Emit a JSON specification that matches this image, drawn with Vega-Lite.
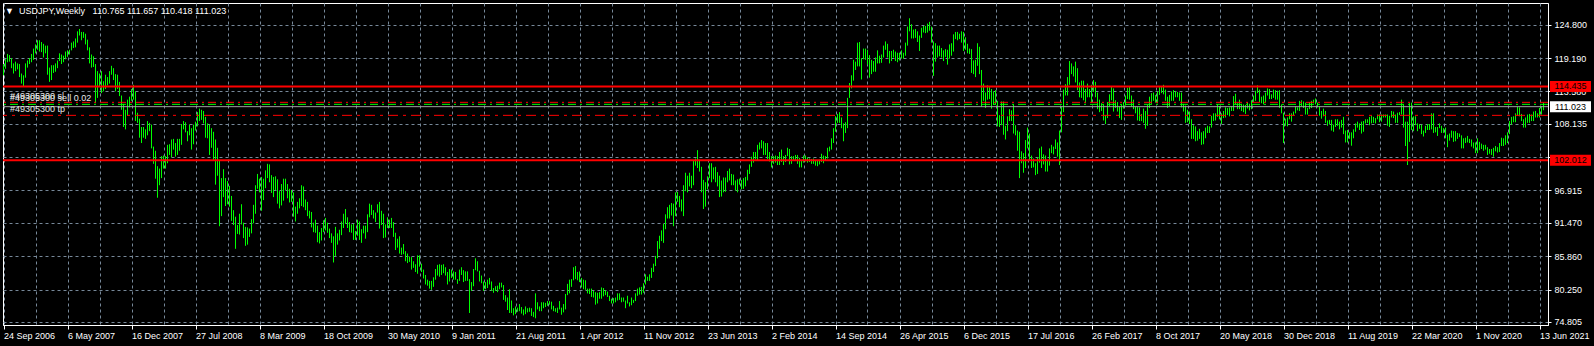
{
"$schema":"https://vega.github.io/schema/vega-lite/v6.json",
"width":1545,"height":322,
"autosize":{"type":"none"},
"padding":{"left":3,"top":3,"right":46,"bottom":21},
"background":"#000000",
"config":{"view":{"stroke":"#ffffff","strokeWidth":1},"font":"Liberation Sans",
 "axisY":{"labelOverlap":false,"labelColor":"#ffffff","labelFont":"Liberation Sans","labelFontSize":9,"labelPadding":3,"labelAlign":"left","labelBaseline":"middle","tickSize":3,"tickColor":"#ffffff","domainColor":"#ffffff","labelBound":false,"labelFlush":false,"grid":true,"gridColor":"#778899","gridDash":[3,3],"gridWidth":1,"title":null},
 "axisX":{"labelOverlap":false,"tickSize":4,"tickColor":"#ffffff","domainColor":"#ffffff","labelColor":"#ffffff","labelFont":"Liberation Sans","labelFontSize":9,"labelAlign":"left","labelBaseline":"top","labelPadding":2,"labelBound":false,"labelFlush":false,"grid":true,"gridColor":"#778899","gridDash":[3,3],"gridWidth":1,"title":null}},
"title":{"text":"▼\u00a0\u00a0USDJPY,Weekly\u00a0\u00a0\u00a0110.765 111.657 110.418 111.023","orient":"top","anchor":"start","frame":"group","offset":-17,"baseline":"middle","dx":2,"fontSize":9,"font":"Liberation Sans","fontWeight":"normal","color":"#ffffff"},
"datasets":{
"bars":[
{"d":"2006-09-24","h":118.2,"l":116.3},{"d":"2006-10-01","h":119.0,"l":117.4},{"d":"2006-10-08","h":119.9,"l":118.5},{"d":"2006-10-15","h":119.7,"l":118.6},{"d":"2006-10-22","h":119.2,"l":117.5},{"d":"2006-10-29","h":118.3,"l":116.6},{"d":"2006-11-05","h":118.6,"l":117.0},{"d":"2006-11-12","h":118.3,"l":117.3},{"d":"2006-11-19","h":118.2,"l":116.0},{"d":"2006-11-26","h":116.6,"l":114.9},{"d":"2006-12-03","h":116.3,"l":114.4},{"d":"2006-12-10","h":118.3,"l":115.9},{"d":"2006-12-17","h":118.8,"l":117.6},{"d":"2006-12-24","h":119.2,"l":118.2},{"d":"2006-12-31","h":119.9,"l":118.5},
{"d":"2007-01-07","h":120.8,"l":118.9},{"d":"2007-01-14","h":121.5,"l":120.0},{"d":"2007-01-21","h":122.2,"l":120.6},{"d":"2007-01-28","h":122.2,"l":120.3},{"d":"2007-02-04","h":121.9,"l":120.2},{"d":"2007-02-11","h":121.6,"l":119.3},{"d":"2007-02-18","h":121.3,"l":120.0},{"d":"2007-02-25","h":121.3,"l":116.4},{"d":"2007-03-04","h":117.6,"l":115.2},{"d":"2007-03-11","h":118.0,"l":115.5},{"d":"2007-03-18","h":118.0,"l":116.7},{"d":"2007-03-25","h":118.3,"l":116.9},{"d":"2007-04-01","h":118.8,"l":117.5},{"d":"2007-04-08","h":120.0,"l":118.7},{"d":"2007-04-15","h":119.8,"l":118.2},{"d":"2007-04-22","h":119.6,"l":118.5},{"d":"2007-04-29","h":120.3,"l":119.0},{"d":"2007-05-06","h":120.5,"l":119.4},{"d":"2007-05-13","h":120.6,"l":119.8},{"d":"2007-05-20","h":121.8,"l":120.5},{"d":"2007-05-27","h":122.0,"l":120.9},{"d":"2007-06-03","h":122.5,"l":121.0},{"d":"2007-06-10","h":123.7,"l":121.8},{"d":"2007-06-17","h":124.1,"l":123.0},{"d":"2007-06-24","h":123.6,"l":122.2},{"d":"2007-07-01","h":123.6,"l":122.6},{"d":"2007-07-08","h":123.3,"l":121.5},{"d":"2007-07-15","h":122.3,"l":120.5},{"d":"2007-07-22","h":121.0,"l":118.3},{"d":"2007-07-29","h":119.8,"l":117.6},{"d":"2007-08-05","h":119.5,"l":117.7},{"d":"2007-08-12","h":118.2,"l":111.6},{"d":"2007-08-19","h":117.0,"l":112.5},{"d":"2007-08-26","h":116.6,"l":114.5},{"d":"2007-09-02","h":117.0,"l":113.3},{"d":"2007-09-09","h":115.3,"l":113.6},{"d":"2007-09-16","h":116.4,"l":114.0},{"d":"2007-09-23","h":116.0,"l":114.6},{"d":"2007-09-30","h":117.0,"l":114.9},{"d":"2007-10-07","h":117.9,"l":116.4},{"d":"2007-10-14","h":117.5,"l":115.5},{"d":"2007-10-21","h":116.5,"l":113.6},{"d":"2007-10-28","h":116.4,"l":114.0},{"d":"2007-11-04","h":115.2,"l":112.8},{"d":"2007-11-11","h":112.9,"l":110.5},{"d":"2007-11-18","h":111.5,"l":107.6},{"d":"2007-11-25","h":110.5,"l":107.2},{"d":"2007-12-02","h":112.2,"l":109.5},{"d":"2007-12-09","h":112.7,"l":110.9},{"d":"2007-12-16","h":114.0,"l":112.0},{"d":"2007-12-23","h":114.7,"l":112.2},{"d":"2007-12-30","h":113.6,"l":108.6},
{"d":"2008-01-06","h":110.0,"l":108.3},{"d":"2008-01-13","h":109.0,"l":105.8},{"d":"2008-01-20","h":107.6,"l":104.9},{"d":"2008-01-27","h":107.6,"l":105.8},{"d":"2008-02-03","h":107.2,"l":105.6},{"d":"2008-02-10","h":108.6,"l":106.2},{"d":"2008-02-17","h":108.3,"l":106.9},{"d":"2008-02-24","h":108.0,"l":104.0},{"d":"2008-03-02","h":104.3,"l":101.4},{"d":"2008-03-09","h":103.6,"l":98.9},{"d":"2008-03-16","h":101.0,"l":95.7},{"d":"2008-03-23","h":100.6,"l":97.8},{"d":"2008-03-30","h":102.7,"l":99.0},{"d":"2008-04-06","h":102.8,"l":100.6},{"d":"2008-04-13","h":102.7,"l":100.6},{"d":"2008-04-20","h":104.6,"l":101.5},{"d":"2008-04-27","h":104.7,"l":102.9},{"d":"2008-05-04","h":105.5,"l":102.5},{"d":"2008-05-11","h":105.6,"l":103.8},{"d":"2008-05-18","h":104.9,"l":102.6},{"d":"2008-05-25","h":105.6,"l":102.9},{"d":"2008-06-01","h":105.6,"l":103.6},{"d":"2008-06-08","h":108.1,"l":104.6},{"d":"2008-06-15","h":108.6,"l":107.2},{"d":"2008-06-22","h":108.4,"l":106.7},{"d":"2008-06-29","h":106.9,"l":105.2},{"d":"2008-07-06","h":108.0,"l":106.2},{"d":"2008-07-13","h":107.4,"l":103.8},{"d":"2008-07-20","h":108.0,"l":104.7},{"d":"2008-07-27","h":108.5,"l":107.0},{"d":"2008-08-03","h":110.1,"l":107.7},{"d":"2008-08-10","h":110.7,"l":108.6},{"d":"2008-08-17","h":110.5,"l":108.8},{"d":"2008-08-24","h":110.3,"l":108.2},{"d":"2008-08-31","h":109.3,"l":105.8},{"d":"2008-09-07","h":108.2,"l":105.7},{"d":"2008-09-14","h":108.0,"l":102.9},{"d":"2008-09-21","h":107.4,"l":104.1},{"d":"2008-09-28","h":106.8,"l":101.9},{"d":"2008-10-05","h":105.5,"l":97.9},{"d":"2008-10-12","h":104.1,"l":99.4},{"d":"2008-10-19","h":102.0,"l":90.9},{"d":"2008-10-26","h":99.0,"l":92.6},{"d":"2008-11-02","h":100.5,"l":95.8},{"d":"2008-11-09","h":99.0,"l":94.3},{"d":"2008-11-16","h":98.5,"l":94.6},{"d":"2008-11-23","h":97.7,"l":94.2},{"d":"2008-11-30","h":96.0,"l":91.8},{"d":"2008-12-07","h":93.6,"l":91.1},{"d":"2008-12-14","h":92.5,"l":87.1},{"d":"2008-12-21","h":91.1,"l":89.6},{"d":"2008-12-28","h":93.0,"l":89.5},
{"d":"2009-01-04","h":94.6,"l":91.2},{"d":"2009-01-11","h":91.5,"l":88.9},{"d":"2009-01-18","h":90.8,"l":87.6},{"d":"2009-01-25","h":90.7,"l":87.8},{"d":"2009-02-01","h":90.5,"l":89.1},{"d":"2009-02-08","h":92.1,"l":89.7},{"d":"2009-02-15","h":94.5,"l":91.4},{"d":"2009-02-22","h":97.8,"l":93.0},{"d":"2009-03-01","h":99.7,"l":97.2},{"d":"2009-03-08","h":98.9,"l":96.6},{"d":"2009-03-15","h":99.2,"l":93.5},{"d":"2009-03-22","h":98.9,"l":95.3},{"d":"2009-03-29","h":100.3,"l":97.3},{"d":"2009-04-05","h":101.4,"l":99.0},{"d":"2009-04-12","h":101.3,"l":98.3},{"d":"2009-04-19","h":99.5,"l":96.5},{"d":"2009-04-26","h":99.2,"l":95.8},{"d":"2009-05-03","h":99.3,"l":97.0},{"d":"2009-05-10","h":98.8,"l":94.7},{"d":"2009-05-17","h":96.8,"l":93.9},{"d":"2009-05-24","h":98.0,"l":94.4},{"d":"2009-05-31","h":98.9,"l":95.2},{"d":"2009-06-07","h":98.9,"l":97.0},{"d":"2009-06-14","h":98.0,"l":95.6},{"d":"2009-06-21","h":97.2,"l":94.9},{"d":"2009-06-28","h":97.0,"l":95.0},{"d":"2009-07-05","h":96.6,"l":92.5},{"d":"2009-07-12","h":94.2,"l":91.7},{"d":"2009-07-19","h":95.0,"l":93.0},{"d":"2009-07-26","h":95.6,"l":93.9},{"d":"2009-08-02","h":97.8,"l":94.3},{"d":"2009-08-09","h":97.6,"l":94.1},{"d":"2009-08-16","h":95.4,"l":93.6},{"d":"2009-08-23","h":95.0,"l":92.6},{"d":"2009-08-30","h":93.5,"l":92.2},{"d":"2009-09-06","h":93.3,"l":90.7},{"d":"2009-09-13","h":91.5,"l":89.9},{"d":"2009-09-20","h":92.0,"l":89.8},{"d":"2009-09-27","h":91.0,"l":88.2},{"d":"2009-10-04","h":89.9,"l":88.0},{"d":"2009-10-11","h":90.6,"l":88.5},{"d":"2009-10-18","h":91.9,"l":89.9},{"d":"2009-10-25","h":92.3,"l":90.2},{"d":"2009-11-01","h":91.5,"l":89.8},{"d":"2009-11-08","h":90.5,"l":88.9},{"d":"2009-11-15","h":89.7,"l":88.1},{"d":"2009-11-22","h":89.2,"l":84.8},{"d":"2009-11-29","h":90.8,"l":85.9},{"d":"2009-12-06","h":89.7,"l":87.8},{"d":"2009-12-13","h":90.3,"l":88.5},{"d":"2009-12-20","h":91.7,"l":89.4},{"d":"2009-12-27","h":93.0,"l":90.6},
{"d":"2010-01-03","h":93.8,"l":91.3},{"d":"2010-01-10","h":92.4,"l":90.6},{"d":"2010-01-17","h":91.6,"l":89.9},{"d":"2010-01-24","h":91.2,"l":89.8},{"d":"2010-01-31","h":91.3,"l":88.6},{"d":"2010-02-07","h":90.1,"l":88.6},{"d":"2010-02-14","h":92.0,"l":89.3},{"d":"2010-02-21","h":91.7,"l":88.6},{"d":"2010-02-28","h":90.4,"l":88.1},{"d":"2010-03-07","h":91.0,"l":89.7},{"d":"2010-03-14","h":91.0,"l":88.8},{"d":"2010-03-21","h":92.9,"l":89.9},{"d":"2010-03-28","h":94.7,"l":92.4},{"d":"2010-04-04","h":94.5,"l":92.8},{"d":"2010-04-11","h":93.6,"l":92.2},{"d":"2010-04-18","h":93.2,"l":91.6},{"d":"2010-04-25","h":94.6,"l":93.2},{"d":"2010-05-02","h":95.0,"l":90.5},{"d":"2010-05-09","h":93.5,"l":91.1},{"d":"2010-05-16","h":93.0,"l":88.9},{"d":"2010-05-23","h":91.2,"l":89.0},{"d":"2010-05-30","h":92.4,"l":90.6},{"d":"2010-06-06","h":92.0,"l":90.6},{"d":"2010-06-13","h":92.3,"l":90.6},{"d":"2010-06-20","h":91.6,"l":89.1},{"d":"2010-06-27","h":89.8,"l":86.9},{"d":"2010-07-04","h":88.8,"l":87.3},{"d":"2010-07-11","h":89.2,"l":86.3},{"d":"2010-07-18","h":87.3,"l":86.1},{"d":"2010-07-25","h":87.9,"l":86.2},{"d":"2010-08-01","h":86.7,"l":85.0},{"d":"2010-08-08","h":86.3,"l":84.7},{"d":"2010-08-15","h":85.8,"l":84.9},{"d":"2010-08-22","h":85.7,"l":83.6},{"d":"2010-08-29","h":85.0,"l":83.9},{"d":"2010-09-05","h":84.5,"l":83.2},{"d":"2010-09-12","h":86.0,"l":82.9},{"d":"2010-09-19","h":86.0,"l":84.1},{"d":"2010-09-26","h":84.6,"l":83.2},{"d":"2010-10-03","h":83.6,"l":82.1},{"d":"2010-10-10","h":82.7,"l":81.1},{"d":"2010-10-17","h":81.9,"l":80.9},{"d":"2010-10-24","h":81.7,"l":80.4},{"d":"2010-10-31","h":81.7,"l":80.2},{"d":"2010-11-07","h":82.3,"l":80.7},{"d":"2010-11-14","h":83.7,"l":81.9},{"d":"2010-11-21","h":84.4,"l":82.6},{"d":"2010-11-28","h":84.5,"l":82.4},{"d":"2010-12-05","h":84.4,"l":82.7},{"d":"2010-12-12","h":84.5,"l":83.0},{"d":"2010-12-19","h":84.0,"l":82.6},{"d":"2010-12-26","h":83.2,"l":81.1},
{"d":"2011-01-02","h":83.7,"l":81.6},{"d":"2011-01-09","h":83.6,"l":82.2},{"d":"2011-01-16","h":83.3,"l":81.9},{"d":"2011-01-23","h":83.2,"l":81.9},{"d":"2011-01-30","h":82.0,"l":81.2},{"d":"2011-02-06","h":83.6,"l":81.7},{"d":"2011-02-13","h":84.0,"l":82.7},{"d":"2011-02-20","h":83.5,"l":81.5},{"d":"2011-02-27","h":83.3,"l":81.7},{"d":"2011-03-06","h":83.3,"l":81.7},{"d":"2011-03-13","h":82.0,"l":76.3},{"d":"2011-03-20","h":81.5,"l":80.0},{"d":"2011-03-27","h":83.7,"l":80.8},{"d":"2011-04-03","h":85.5,"l":83.5},{"d":"2011-04-10","h":85.0,"l":83.3},{"d":"2011-04-17","h":83.4,"l":81.6},{"d":"2011-04-24","h":82.6,"l":81.3},{"d":"2011-05-01","h":81.6,"l":80.0},{"d":"2011-05-08","h":81.5,"l":80.3},{"d":"2011-05-15","h":81.9,"l":80.5},{"d":"2011-05-22","h":82.2,"l":81.1},{"d":"2011-05-29","h":81.6,"l":80.0},{"d":"2011-06-05","h":80.5,"l":79.7},{"d":"2011-06-12","h":80.8,"l":80.0},{"d":"2011-06-19","h":80.9,"l":79.8},{"d":"2011-06-26","h":81.4,"l":80.3},{"d":"2011-07-03","h":81.4,"l":80.6},{"d":"2011-07-10","h":81.0,"l":78.5},{"d":"2011-07-17","h":79.3,"l":78.2},{"d":"2011-07-24","h":78.9,"l":76.8},{"d":"2011-07-31","h":80.3,"l":76.3},{"d":"2011-08-07","h":78.4,"l":76.3},{"d":"2011-08-14","h":77.1,"l":75.9},{"d":"2011-08-21","h":77.4,"l":76.1},{"d":"2011-08-28","h":77.2,"l":76.5},{"d":"2011-09-04","h":77.8,"l":76.6},{"d":"2011-09-11","h":77.3,"l":76.2},{"d":"2011-09-18","h":76.9,"l":75.9},{"d":"2011-09-25","h":77.4,"l":76.1},{"d":"2011-10-02","h":77.1,"l":76.4},{"d":"2011-10-09","h":77.2,"l":76.5},{"d":"2011-10-16","h":77.1,"l":75.8},{"d":"2011-10-23","h":76.5,"l":75.6},{"d":"2011-10-30","h":79.6,"l":75.4},{"d":"2011-11-06","h":78.1,"l":76.9},{"d":"2011-11-13","h":77.4,"l":76.6},{"d":"2011-11-20","h":78.1,"l":76.6},{"d":"2011-11-27","h":78.1,"l":77.1},{"d":"2011-12-04","h":78.0,"l":77.3},{"d":"2011-12-11","h":78.3,"l":77.5},{"d":"2011-12-18","h":78.3,"l":77.7},{"d":"2011-12-25","h":78.2,"l":76.9},
{"d":"2012-01-01","h":77.5,"l":76.6},{"d":"2012-01-08","h":77.1,"l":76.5},{"d":"2012-01-15","h":77.2,"l":76.3},{"d":"2012-01-22","h":78.3,"l":76.9},{"d":"2012-01-29","h":77.2,"l":76.0},{"d":"2012-02-05","h":77.8,"l":76.4},{"d":"2012-02-12","h":79.5,"l":76.9},{"d":"2012-02-19","h":81.2,"l":79.3},{"d":"2012-02-26","h":81.9,"l":79.6},{"d":"2012-03-04","h":82.0,"l":80.7},{"d":"2012-03-11","h":84.0,"l":81.8},{"d":"2012-03-18","h":84.2,"l":82.0},{"d":"2012-03-25","h":83.2,"l":81.8},{"d":"2012-04-01","h":83.3,"l":81.5},{"d":"2012-04-08","h":82.2,"l":80.6},{"d":"2012-04-15","h":81.9,"l":80.3},{"d":"2012-04-22","h":81.8,"l":80.2},{"d":"2012-04-29","h":80.4,"l":79.6},{"d":"2012-05-06","h":80.4,"l":79.5},{"d":"2012-05-13","h":80.4,"l":79.0},{"d":"2012-05-20","h":80.0,"l":78.9},{"d":"2012-05-27","h":79.8,"l":77.7},{"d":"2012-06-03","h":79.7,"l":77.9},{"d":"2012-06-10","h":79.8,"l":78.7},{"d":"2012-06-17","h":80.6,"l":78.7},{"d":"2012-06-24","h":80.5,"l":79.1},{"d":"2012-07-01","h":80.1,"l":79.3},{"d":"2012-07-08","h":79.9,"l":79.0},{"d":"2012-07-15","h":79.2,"l":78.3},{"d":"2012-07-22","h":78.7,"l":77.9},{"d":"2012-07-29","h":78.8,"l":77.9},{"d":"2012-08-05","h":78.9,"l":78.1},{"d":"2012-08-12","h":79.6,"l":78.4},{"d":"2012-08-19","h":79.6,"l":78.5},{"d":"2012-08-26","h":78.9,"l":78.1},{"d":"2012-09-02","h":78.9,"l":78.2},{"d":"2012-09-09","h":78.4,"l":77.1},{"d":"2012-09-16","h":79.2,"l":77.9},{"d":"2012-09-23","h":78.1,"l":77.4},{"d":"2012-09-30","h":78.9,"l":77.6},{"d":"2012-10-07","h":78.5,"l":78.0},{"d":"2012-10-14","h":79.6,"l":78.3},{"d":"2012-10-21","h":80.4,"l":79.2},{"d":"2012-10-28","h":80.6,"l":79.4},{"d":"2012-11-04","h":80.7,"l":79.4},{"d":"2012-11-11","h":81.3,"l":79.7},{"d":"2012-11-18","h":82.8,"l":81.1},{"d":"2012-11-25","h":82.4,"l":81.7},{"d":"2012-12-02","h":82.8,"l":81.7},{"d":"2012-12-09","h":83.9,"l":82.2},{"d":"2012-12-16","h":84.6,"l":83.2},{"d":"2012-12-23","h":85.9,"l":84.2},{"d":"2012-12-30","h":88.4,"l":85.5},
{"d":"2013-01-06","h":89.3,"l":87.1},{"d":"2013-01-13","h":90.2,"l":88.4},{"d":"2013-01-20","h":91.3,"l":88.1},{"d":"2013-01-27","h":92.9,"l":90.4},{"d":"2013-02-03","h":94.1,"l":92.2},{"d":"2013-02-10","h":94.5,"l":92.2},{"d":"2013-02-17","h":94.8,"l":92.7},{"d":"2013-02-24","h":94.7,"l":90.9},{"d":"2013-03-03","h":96.6,"l":92.6},{"d":"2013-03-10","h":96.7,"l":95.0},{"d":"2013-03-17","h":96.0,"l":94.1},{"d":"2013-03-24","h":95.4,"l":93.4},{"d":"2013-03-31","h":97.8,"l":92.6},{"d":"2013-04-07","h":99.9,"l":96.8},{"d":"2013-04-14","h":99.4,"l":96.6},{"d":"2013-04-21","h":99.9,"l":97.6},{"d":"2013-04-28","h":99.4,"l":97.3},{"d":"2013-05-05","h":101.9,"l":97.8},{"d":"2013-05-12","h":102.3,"l":101.1},{"d":"2013-05-19","h":103.7,"l":100.7},{"d":"2013-05-26","h":102.1,"l":100.1},{"d":"2013-06-02","h":100.9,"l":96.6},{"d":"2013-06-09","h":98.7,"l":93.8},{"d":"2013-06-16","h":98.3,"l":94.2},{"d":"2013-06-23","h":99.3,"l":97.1},{"d":"2013-06-30","h":101.5,"l":99.0},{"d":"2013-07-07","h":101.5,"l":98.3},{"d":"2013-07-14","h":100.8,"l":98.8},{"d":"2013-07-21","h":100.9,"l":98.3},{"d":"2013-07-28","h":100.0,"l":97.6},{"d":"2013-08-04","h":99.4,"l":95.8},{"d":"2013-08-11","h":98.6,"l":95.9},{"d":"2013-08-18","h":99.1,"l":96.6},{"d":"2013-08-25","h":99.1,"l":96.7},{"d":"2013-09-01","h":100.2,"l":98.3},{"d":"2013-09-08","h":100.6,"l":98.6},{"d":"2013-09-15","h":99.7,"l":97.8},{"d":"2013-09-22","h":99.6,"l":97.8},{"d":"2013-09-29","h":98.6,"l":96.9},{"d":"2013-10-06","h":98.8,"l":96.6},{"d":"2013-10-13","h":98.9,"l":97.9},{"d":"2013-10-20","h":98.7,"l":97.1},{"d":"2013-10-27","h":99.0,"l":97.2},{"d":"2013-11-03","h":99.2,"l":97.6},{"d":"2013-11-10","h":100.4,"l":98.6},{"d":"2013-11-17","h":101.3,"l":99.7},{"d":"2013-11-24","h":102.6,"l":100.9},{"d":"2013-12-01","h":103.4,"l":101.6},{"d":"2013-12-08","h":103.4,"l":102.2},{"d":"2013-12-15","h":104.6,"l":101.9},{"d":"2013-12-22","h":105.0,"l":103.8},{"d":"2013-12-29","h":105.4,"l":104.0},
{"d":"2014-01-05","h":105.2,"l":102.9},{"d":"2014-01-12","h":104.9,"l":102.9},{"d":"2014-01-19","h":104.9,"l":102.2},{"d":"2014-01-26","h":103.4,"l":101.8},{"d":"2014-02-02","h":102.7,"l":100.8},{"d":"2014-02-09","h":102.7,"l":101.4},{"d":"2014-02-16","h":102.8,"l":101.6},{"d":"2014-02-23","h":102.7,"l":101.2},{"d":"2014-03-02","h":103.4,"l":101.2},{"d":"2014-03-09","h":103.8,"l":101.7},{"d":"2014-03-16","h":102.7,"l":101.2},{"d":"2014-03-23","h":102.9,"l":101.7},{"d":"2014-03-30","h":104.1,"l":102.7},{"d":"2014-04-06","h":103.9,"l":101.3},{"d":"2014-04-13","h":102.7,"l":101.4},{"d":"2014-04-20","h":102.7,"l":101.9},{"d":"2014-04-27","h":102.9,"l":101.9},{"d":"2014-05-04","h":102.9,"l":101.4},{"d":"2014-05-11","h":102.4,"l":100.8},{"d":"2014-05-18","h":101.9,"l":100.8},{"d":"2014-05-25","h":102.8,"l":101.6},{"d":"2014-06-01","h":102.8,"l":101.8},{"d":"2014-06-08","h":102.5,"l":101.6},{"d":"2014-06-15","h":102.3,"l":101.7},{"d":"2014-06-22","h":102.2,"l":101.4},{"d":"2014-06-29","h":102.3,"l":101.4},{"d":"2014-07-06","h":102.0,"l":101.1},{"d":"2014-07-13","h":101.9,"l":101.0},{"d":"2014-07-20","h":102.1,"l":101.3},{"d":"2014-07-27","h":103.1,"l":101.7},{"d":"2014-08-03","h":102.8,"l":101.5},{"d":"2014-08-10","h":102.7,"l":102.0},{"d":"2014-08-17","h":104.1,"l":102.3},{"d":"2014-08-24","h":104.3,"l":103.5},{"d":"2014-08-31","h":105.7,"l":103.8},{"d":"2014-09-07","h":107.4,"l":104.9},{"d":"2014-09-14","h":109.4,"l":106.8},{"d":"2014-09-21","h":109.8,"l":108.3},{"d":"2014-09-28","h":110.1,"l":108.3},{"d":"2014-10-05","h":109.2,"l":107.4},{"d":"2014-10-12","h":108.2,"l":105.2},{"d":"2014-10-19","h":108.4,"l":106.6},{"d":"2014-10-26","h":112.5,"l":107.4},{"d":"2014-11-02","h":115.0,"l":112.5},{"d":"2014-11-09","h":116.3,"l":114.1},{"d":"2014-11-16","h":118.9,"l":115.4},{"d":"2014-11-23","h":118.6,"l":117.2},{"d":"2014-11-30","h":121.8,"l":117.8},{"d":"2014-12-07","h":121.9,"l":117.8},{"d":"2014-12-14","h":119.2,"l":115.6},{"d":"2014-12-21","h":120.8,"l":119.0},{"d":"2014-12-28","h":120.8,"l":118.9},
{"d":"2015-01-04","h":120.6,"l":118.1},{"d":"2015-01-11","h":119.7,"l":115.9},{"d":"2015-01-18","h":118.9,"l":116.5},{"d":"2015-01-25","h":118.7,"l":116.9},{"d":"2015-02-01","h":119.3,"l":116.9},{"d":"2015-02-08","h":120.5,"l":118.3},{"d":"2015-02-15","h":119.6,"l":118.3},{"d":"2015-02-22","h":119.8,"l":118.4},{"d":"2015-03-01","h":121.3,"l":119.3},{"d":"2015-03-08","h":122.0,"l":120.6},{"d":"2015-03-15","h":121.6,"l":119.3},{"d":"2015-03-22","h":120.4,"l":118.3},{"d":"2015-03-29","h":120.4,"l":118.7},{"d":"2015-04-05","h":120.6,"l":119.3},{"d":"2015-04-12","h":120.3,"l":118.7},{"d":"2015-04-19","h":120.1,"l":118.5},{"d":"2015-04-26","h":120.1,"l":118.8},{"d":"2015-05-03","h":120.5,"l":119.1},{"d":"2015-05-10","h":120.1,"l":119.1},{"d":"2015-05-17","h":121.8,"l":119.6},{"d":"2015-05-24","h":124.5,"l":121.3},{"d":"2015-05-31","h":125.9,"l":123.7},{"d":"2015-06-07","h":124.9,"l":122.5},{"d":"2015-06-14","h":124.0,"l":122.5},{"d":"2015-06-21","h":124.1,"l":122.6},{"d":"2015-06-28","h":123.7,"l":121.9},{"d":"2015-07-05","h":123.0,"l":120.4},{"d":"2015-07-12","h":124.3,"l":122.6},{"d":"2015-07-19","h":124.6,"l":123.5},{"d":"2015-07-26","h":124.6,"l":123.4},{"d":"2015-08-02","h":125.0,"l":123.5},{"d":"2015-08-09","h":125.3,"l":123.8},{"d":"2015-08-16","h":124.5,"l":121.8},{"d":"2015-08-23","h":122.0,"l":116.2},{"d":"2015-08-30","h":121.7,"l":118.6},{"d":"2015-09-06","h":121.3,"l":119.3},{"d":"2015-09-13","h":121.3,"l":119.5},{"d":"2015-09-20","h":120.9,"l":119.3},{"d":"2015-09-27","h":120.5,"l":118.7},{"d":"2015-10-04","h":120.7,"l":119.4},{"d":"2015-10-11","h":120.6,"l":118.1},{"d":"2015-10-18","h":121.5,"l":119.1},{"d":"2015-10-25","h":121.7,"l":119.6},{"d":"2015-11-01","h":123.2,"l":120.3},{"d":"2015-11-08","h":123.6,"l":122.4},{"d":"2015-11-15","h":123.6,"l":122.2},{"d":"2015-11-22","h":123.3,"l":122.4},{"d":"2015-11-29","h":123.7,"l":121.8},{"d":"2015-12-06","h":123.6,"l":120.4},{"d":"2015-12-13","h":122.7,"l":120.6},{"d":"2015-12-20","h":121.6,"l":120.0},{"d":"2015-12-27","h":120.8,"l":119.9},
{"d":"2016-01-03","h":120.7,"l":116.7},{"d":"2016-01-10","h":118.8,"l":116.5},{"d":"2016-01-17","h":118.9,"l":116.0},{"d":"2016-01-24","h":121.7,"l":117.9},{"d":"2016-01-31","h":121.1,"l":116.5},{"d":"2016-02-07","h":117.2,"l":111.0},{"d":"2016-02-14","h":114.9,"l":112.0},{"d":"2016-02-21","h":113.4,"l":110.8},{"d":"2016-02-28","h":114.6,"l":112.2},{"d":"2016-03-06","h":114.3,"l":112.3},{"d":"2016-03-13","h":114.0,"l":110.7},{"d":"2016-03-20","h":113.6,"l":111.3},{"d":"2016-03-27","h":113.8,"l":111.4},{"d":"2016-04-03","h":112.0,"l":107.7},{"d":"2016-04-10","h":109.6,"l":107.6},{"d":"2016-04-17","h":111.9,"l":107.9},{"d":"2016-04-24","h":111.9,"l":106.3},{"d":"2016-05-01","h":107.8,"l":105.5},{"d":"2016-05-08","h":109.4,"l":106.9},{"d":"2016-05-15","h":110.6,"l":108.6},{"d":"2016-05-22","h":110.4,"l":108.6},{"d":"2016-05-29","h":111.4,"l":106.5},{"d":"2016-06-05","h":107.9,"l":106.2},{"d":"2016-06-12","h":107.0,"l":103.6},{"d":"2016-06-19","h":106.8,"l":99.0},{"d":"2016-06-26","h":103.5,"l":101.5},{"d":"2016-07-03","h":103.2,"l":99.9},{"d":"2016-07-10","h":105.4,"l":100.7},{"d":"2016-07-17","h":107.5,"l":104.0},{"d":"2016-07-24","h":106.5,"l":102.0},{"d":"2016-07-31","h":102.8,"l":100.7},{"d":"2016-08-07","h":102.3,"l":100.8},{"d":"2016-08-14","h":101.5,"l":99.5},{"d":"2016-08-21","h":102.5,"l":99.7},{"d":"2016-08-28","h":104.0,"l":101.6},{"d":"2016-09-04","h":104.3,"l":100.7},{"d":"2016-09-11","h":103.0,"l":101.3},{"d":"2016-09-18","h":102.8,"l":100.1},{"d":"2016-09-25","h":101.9,"l":100.1},{"d":"2016-10-02","h":104.0,"l":101.1},{"d":"2016-10-09","h":104.6,"l":103.2},{"d":"2016-10-16","h":104.3,"l":103.0},{"d":"2016-10-23","h":105.5,"l":103.9},{"d":"2016-10-30","h":105.0,"l":102.6},{"d":"2016-11-06","h":107.0,"l":101.2},{"d":"2016-11-13","h":111.0,"l":106.7},{"d":"2016-11-20","h":113.9,"l":110.1},{"d":"2016-11-27","h":114.8,"l":112.9},{"d":"2016-12-04","h":116.0,"l":112.9},{"d":"2016-12-11","h":118.7,"l":114.7},{"d":"2016-12-18","h":118.3,"l":116.5},{"d":"2016-12-25","h":117.8,"l":116.1},
{"d":"2017-01-01","h":118.6,"l":115.1},{"d":"2017-01-08","h":117.5,"l":113.8},{"d":"2017-01-15","h":115.1,"l":112.6},{"d":"2017-01-22","h":115.4,"l":112.5},{"d":"2017-01-29","h":115.4,"l":112.1},{"d":"2017-02-05","h":114.0,"l":111.6},{"d":"2017-02-12","h":114.9,"l":112.6},{"d":"2017-02-19","h":114.0,"l":112.6},{"d":"2017-02-26","h":114.7,"l":111.7},{"d":"2017-03-05","h":115.5,"l":113.5},{"d":"2017-03-12","h":115.2,"l":112.6},{"d":"2017-03-19","h":113.4,"l":110.6},{"d":"2017-03-26","h":112.2,"l":110.1},{"d":"2017-04-02","h":111.6,"l":110.3},{"d":"2017-04-09","h":111.4,"l":108.7},{"d":"2017-04-16","h":109.6,"l":108.1},{"d":"2017-04-23","h":111.8,"l":109.1},{"d":"2017-04-30","h":113.1,"l":111.1},{"d":"2017-05-07","h":114.4,"l":112.1},{"d":"2017-05-14","h":114.1,"l":110.2},{"d":"2017-05-21","h":112.1,"l":110.8},{"d":"2017-05-28","h":111.8,"l":110.2},{"d":"2017-06-04","h":111.0,"l":109.1},{"d":"2017-06-11","h":111.4,"l":108.8},{"d":"2017-06-18","h":111.8,"l":110.7},{"d":"2017-06-25","h":112.9,"l":111.2},{"d":"2017-07-02","h":114.2,"l":112.3},{"d":"2017-07-09","h":114.5,"l":112.2},{"d":"2017-07-16","h":112.9,"l":111.0},{"d":"2017-07-23","h":112.2,"l":110.6},{"d":"2017-07-30","h":111.0,"l":109.9},{"d":"2017-08-06","h":111.0,"l":108.7},{"d":"2017-08-13","h":110.9,"l":108.6},{"d":"2017-08-20","h":109.8,"l":108.6},{"d":"2017-08-27","h":110.7,"l":108.3},{"d":"2017-09-03","h":110.3,"l":107.3},{"d":"2017-09-10","h":111.3,"l":107.8},{"d":"2017-09-17","h":112.7,"l":110.8},{"d":"2017-09-24","h":113.3,"l":111.5},{"d":"2017-10-01","h":113.4,"l":112.0},{"d":"2017-10-08","h":113.0,"l":111.7},{"d":"2017-10-15","h":113.6,"l":111.6},{"d":"2017-10-22","h":114.3,"l":113.0},{"d":"2017-10-29","h":114.5,"l":113.3},{"d":"2017-11-05","h":114.7,"l":113.1},{"d":"2017-11-12","h":113.9,"l":112.0},{"d":"2017-11-19","h":112.7,"l":110.8},{"d":"2017-11-26","h":113.0,"l":111.1},{"d":"2017-12-03","h":113.6,"l":112.0},{"d":"2017-12-10","h":113.8,"l":112.0},{"d":"2017-12-17","h":113.6,"l":112.6},{"d":"2017-12-24","h":113.5,"l":112.6},{"d":"2017-12-31","h":113.4,"l":112.0},
{"d":"2018-01-07","h":113.4,"l":110.9},{"d":"2018-01-14","h":111.5,"l":110.2},{"d":"2018-01-21","h":111.2,"l":108.3},{"d":"2018-01-28","h":110.5,"l":108.4},{"d":"2018-02-04","h":110.2,"l":108.1},{"d":"2018-02-11","h":108.9,"l":105.6},{"d":"2018-02-18","h":107.9,"l":105.6},{"d":"2018-02-25","h":107.7,"l":105.2},{"d":"2018-03-04","h":106.9,"l":105.3},{"d":"2018-03-11","h":107.3,"l":105.6},{"d":"2018-03-18","h":106.7,"l":104.6},{"d":"2018-03-25","h":106.9,"l":104.7},{"d":"2018-04-01","h":107.5,"l":105.7},{"d":"2018-04-08","h":107.8,"l":106.6},{"d":"2018-04-15","h":107.7,"l":106.6},{"d":"2018-04-22","h":109.5,"l":107.5},{"d":"2018-04-29","h":109.9,"l":108.6},{"d":"2018-05-06","h":109.9,"l":108.7},{"d":"2018-05-13","h":111.4,"l":109.3},{"d":"2018-05-20","h":111.1,"l":108.9},{"d":"2018-05-27","h":109.9,"l":108.1},{"d":"2018-06-03","h":110.3,"l":109.1},{"d":"2018-06-10","h":110.9,"l":109.2},{"d":"2018-06-17","h":110.8,"l":109.6},{"d":"2018-06-24","h":110.9,"l":109.4},{"d":"2018-07-01","h":111.1,"l":110.3},{"d":"2018-07-08","h":112.8,"l":110.3},{"d":"2018-07-15","h":113.2,"l":111.4},{"d":"2018-07-22","h":111.6,"l":110.6},{"d":"2018-07-29","h":112.2,"l":110.6},{"d":"2018-08-05","h":111.5,"l":110.3},{"d":"2018-08-12","h":111.4,"l":110.1},{"d":"2018-08-19","h":111.3,"l":109.8},{"d":"2018-08-26","h":111.8,"l":110.7},{"d":"2018-09-02","h":111.5,"l":110.4},{"d":"2018-09-09","h":112.1,"l":110.6},{"d":"2018-09-16","h":112.9,"l":111.8},{"d":"2018-09-23","h":113.7,"l":112.0},{"d":"2018-09-30","h":114.6,"l":113.3},{"d":"2018-10-07","h":113.9,"l":111.8},{"d":"2018-10-14","h":112.7,"l":111.6},{"d":"2018-10-21","h":112.9,"l":111.4},{"d":"2018-10-28","h":113.4,"l":111.8},{"d":"2018-11-04","h":114.1,"l":112.9},{"d":"2018-11-11","h":114.0,"l":112.3},{"d":"2018-11-18","h":113.1,"l":112.3},{"d":"2018-11-25","h":113.9,"l":112.5},{"d":"2018-12-02","h":113.8,"l":112.2},{"d":"2018-12-09","h":113.7,"l":112.2},{"d":"2018-12-16","h":113.8,"l":110.8},{"d":"2018-12-23","h":111.4,"l":109.9},{"d":"2018-12-30","h":110.0,"l":104.9},
{"d":"2019-01-06","h":109.0,"l":107.8},{"d":"2019-01-13","h":109.2,"l":107.7},{"d":"2019-01-20","h":109.9,"l":108.9},{"d":"2019-01-27","h":109.9,"l":108.5},{"d":"2019-02-03","h":110.2,"l":109.5},{"d":"2019-02-10","h":111.1,"l":109.9},{"d":"2019-02-17","h":110.9,"l":110.4},{"d":"2019-02-24","h":112.0,"l":110.3},{"d":"2019-03-03","h":112.1,"l":111.1},{"d":"2019-03-10","h":111.9,"l":110.8},{"d":"2019-03-17","h":111.7,"l":109.7},{"d":"2019-03-24","h":110.8,"l":109.7},{"d":"2019-03-31","h":111.8,"l":110.6},{"d":"2019-04-07","h":112.0,"l":110.8},{"d":"2019-04-14","h":112.2,"l":111.6},{"d":"2019-04-21","h":112.4,"l":111.4},{"d":"2019-04-28","h":111.7,"l":110.9},{"d":"2019-05-05","h":111.1,"l":109.5},{"d":"2019-05-12","h":110.3,"l":109.0},{"d":"2019-05-19","h":110.7,"l":109.4},{"d":"2019-05-26","h":110.3,"l":108.3},{"d":"2019-06-02","h":108.7,"l":107.8},{"d":"2019-06-09","h":108.8,"l":108.1},{"d":"2019-06-16","h":108.8,"l":107.0},{"d":"2019-06-23","h":108.0,"l":106.8},{"d":"2019-06-30","h":108.9,"l":107.6},{"d":"2019-07-07","h":108.9,"l":107.8},{"d":"2019-07-14","h":108.5,"l":107.2},{"d":"2019-07-21","h":108.8,"l":107.5},{"d":"2019-07-28","h":109.3,"l":106.4},{"d":"2019-08-04","h":107.0,"l":105.0},{"d":"2019-08-11","h":107.1,"l":105.0},{"d":"2019-08-18","h":106.7,"l":105.6},{"d":"2019-08-25","h":106.7,"l":104.45},{"d":"2019-09-01","h":107.2,"l":105.7},{"d":"2019-09-08","h":108.2,"l":106.8},{"d":"2019-09-15","h":108.5,"l":107.5},{"d":"2019-09-22","h":108.2,"l":107.1},{"d":"2019-09-29","h":108.5,"l":106.5},{"d":"2019-10-06","h":108.6,"l":106.8},{"d":"2019-10-13","h":108.9,"l":108.2},{"d":"2019-10-20","h":108.9,"l":108.3},{"d":"2019-10-27","h":109.3,"l":107.9},{"d":"2019-11-03","h":109.5,"l":108.2},{"d":"2019-11-10","h":109.3,"l":108.3},{"d":"2019-11-17","h":109.1,"l":108.2},{"d":"2019-11-24","h":109.7,"l":108.9},{"d":"2019-12-01","h":109.7,"l":108.4},{"d":"2019-12-08","h":109.7,"l":108.5},{"d":"2019-12-15","h":109.7,"l":109.2},{"d":"2019-12-22","h":109.7,"l":109.2},{"d":"2019-12-29","h":109.7,"l":107.8},
{"d":"2020-01-05","h":109.5,"l":107.6},{"d":"2020-01-12","h":110.3,"l":109.2},{"d":"2020-01-19","h":110.2,"l":109.1},{"d":"2020-01-26","h":109.7,"l":108.3},{"d":"2020-02-02","h":110.0,"l":108.3},{"d":"2020-02-09","h":110.1,"l":109.6},{"d":"2020-02-16","h":112.2,"l":109.7},{"d":"2020-02-23","h":111.4,"l":107.5},{"d":"2020-03-01","h":108.5,"l":104.4},{"d":"2020-03-08","h":108.5,"l":101.2},{"d":"2020-03-15","h":111.6,"l":105.1},{"d":"2020-03-22","h":111.7,"l":107.1},{"d":"2020-03-29","h":109.4,"l":106.9},{"d":"2020-04-05","h":109.4,"l":107.9},{"d":"2020-04-12","h":108.2,"l":106.9},{"d":"2020-04-19","h":108.1,"l":107.3},{"d":"2020-04-26","h":108.0,"l":106.4},{"d":"2020-05-03","h":107.0,"l":106.0},{"d":"2020-05-10","h":107.8,"l":106.6},{"d":"2020-05-17","h":108.1,"l":107.1},{"d":"2020-05-24","h":108.1,"l":107.1},{"d":"2020-05-31","h":109.9,"l":107.2},{"d":"2020-06-07","h":109.9,"l":106.6},{"d":"2020-06-14","h":107.6,"l":106.7},{"d":"2020-06-21","h":107.6,"l":106.1},{"d":"2020-06-28","h":108.2,"l":107.4},{"d":"2020-07-05","h":107.8,"l":106.6},{"d":"2020-07-12","h":107.4,"l":106.6},{"d":"2020-07-19","h":107.5,"l":105.7},{"d":"2020-07-26","h":106.3,"l":104.2},{"d":"2020-08-02","h":106.5,"l":105.3},{"d":"2020-08-09","h":107.0,"l":105.8},{"d":"2020-08-16","h":106.9,"l":105.1},{"d":"2020-08-23","h":106.9,"l":105.2},{"d":"2020-08-30","h":106.6,"l":105.6},{"d":"2020-09-06","h":106.5,"l":105.9},{"d":"2020-09-13","h":106.2,"l":104.0},{"d":"2020-09-20","h":105.7,"l":104.0},{"d":"2020-09-27","h":105.8,"l":104.9},{"d":"2020-10-04","h":106.1,"l":105.0},{"d":"2020-10-11","h":105.6,"l":104.9},{"d":"2020-10-18","h":105.5,"l":104.3},{"d":"2020-10-25","h":105.0,"l":104.0},{"d":"2020-11-01","h":105.0,"l":103.2},{"d":"2020-11-08","h":105.7,"l":103.2},{"d":"2020-11-15","h":105.1,"l":103.7},{"d":"2020-11-22","h":104.8,"l":103.9},{"d":"2020-11-29","h":104.6,"l":103.6},{"d":"2020-12-06","h":104.6,"l":103.8},{"d":"2020-12-13","h":104.2,"l":102.9},{"d":"2020-12-20","h":103.9,"l":103.1},{"d":"2020-12-27","h":103.9,"l":102.9},
{"d":"2021-01-03","h":104.1,"l":102.6},{"d":"2021-01-10","h":104.4,"l":103.5},{"d":"2021-01-17","h":104.2,"l":103.3},{"d":"2021-01-24","h":104.9,"l":103.4},{"d":"2021-01-31","h":105.8,"l":104.4},{"d":"2021-02-07","h":105.7,"l":104.4},{"d":"2021-02-14","h":106.2,"l":104.6},{"d":"2021-02-21","h":106.7,"l":104.9},{"d":"2021-02-28","h":108.6,"l":106.4},{"d":"2021-03-07","h":109.3,"l":108.0},{"d":"2021-03-14","h":109.4,"l":108.4},{"d":"2021-03-21","h":109.9,"l":108.4},{"d":"2021-03-28","h":111.0,"l":109.5},{"d":"2021-04-04","h":110.9,"l":109.4},{"d":"2021-04-11","h":109.8,"l":108.6},{"d":"2021-04-18","h":108.9,"l":107.5},{"d":"2021-04-25","h":109.2,"l":107.5},{"d":"2021-05-02","h":109.7,"l":108.3},{"d":"2021-05-09","h":109.8,"l":108.3},{"d":"2021-05-16","h":109.7,"l":108.6},{"d":"2021-05-23","h":110.2,"l":108.6},{"d":"2021-05-30","h":110.3,"l":109.2},{"d":"2021-06-06","h":109.9,"l":109.2},{"d":"2021-06-13","h":110.8,"l":109.2},{"d":"2021-06-20","h":111.1,"l":109.7},{"d":"2021-06-27","h":111.66,"l":110.42}
],
"levels":[{"p":114.435,"k":"hl"},{"p":102.012,"k":"hl"},{"p":111.75,"k":"sl"},{"p":111.415,"k":"op"},{"p":109.56,"k":"tp"},{"p":111.023,"k":"bid"}],
"notes":[{"d":"2006-10-17","p":111.75,"t":"#49305300 sl"},{"d":"2006-10-17","p":111.415,"t":"#49305300 sell 0.02"},{"d":"2006-10-17","p":109.56,"t":"#49305300 tp"}],
"tags":[{"d":"2021-09-29T12:00:00Z","p":114.435,"t":"114.435","bg":"#ff0000","fg":"#000000"},{"d":"2021-09-29T12:00:00Z","p":111.023,"t":"111.023","bg":"#ffffff","fg":"#000000"},{"d":"2021-09-29T12:00:00Z","p":102.012,"t":"102.012","bg":"#ff0000","fg":"#000000"}]
},
"layer":[
{"data":{"name":"bars"},
 "mark":{"type":"rule","color":"#00ff00","strokeWidth":1},
 "encoding":{
  "x":{"field":"d","type":"temporal","scale":{"type":"utc","domain":[{"year":2006,"month":9,"date":22,"hours":6,"utc":true},{"year":2021,"month":7,"date":12,"hours":18,"utc":true}]},
   "axis":{"orient":"bottom","tickCount":200,"values":[
{"year":2006,"month":9,"date":24,"utc":true},{"year":2007,"month":1,"date":14,"utc":true},{"year":2007,"month":5,"date":6,"utc":true},{"year":2007,"month":8,"date":26,"utc":true},{"year":2007,"month":12,"date":16,"utc":true},{"year":2008,"month":4,"date":6,"utc":true},{"year":2008,"month":7,"date":27,"utc":true},{"year":2008,"month":11,"date":16,"utc":true},{"year":2009,"month":3,"date":8,"utc":true},{"year":2009,"month":6,"date":28,"utc":true},{"year":2009,"month":10,"date":18,"utc":true},{"year":2010,"month":2,"date":7,"utc":true},{"year":2010,"month":5,"date":30,"utc":true},{"year":2010,"month":9,"date":19,"utc":true},{"year":2011,"month":1,"date":9,"utc":true},{"year":2011,"month":5,"date":1,"utc":true},{"year":2011,"month":8,"date":21,"utc":true},{"year":2011,"month":12,"date":11,"utc":true},{"year":2012,"month":4,"date":1,"utc":true},{"year":2012,"month":7,"date":22,"utc":true},{"year":2012,"month":11,"date":11,"utc":true},{"year":2013,"month":3,"date":3,"utc":true},{"year":2013,"month":6,"date":23,"utc":true},{"year":2013,"month":10,"date":13,"utc":true},{"year":2014,"month":2,"date":2,"utc":true},{"year":2014,"month":5,"date":25,"utc":true},{"year":2014,"month":9,"date":14,"utc":true},{"year":2015,"month":1,"date":4,"utc":true},{"year":2015,"month":4,"date":26,"utc":true},{"year":2015,"month":8,"date":16,"utc":true},{"year":2015,"month":12,"date":6,"utc":true},{"year":2016,"month":3,"date":27,"utc":true},{"year":2016,"month":7,"date":17,"utc":true},{"year":2016,"month":11,"date":6,"utc":true},{"year":2017,"month":2,"date":26,"utc":true},{"year":2017,"month":6,"date":18,"utc":true},{"year":2017,"month":10,"date":8,"utc":true},{"year":2018,"month":1,"date":28,"utc":true},{"year":2018,"month":5,"date":20,"utc":true},{"year":2018,"month":9,"date":9,"utc":true},{"year":2018,"month":12,"date":30,"utc":true},{"year":2019,"month":4,"date":21,"utc":true},{"year":2019,"month":8,"date":11,"utc":true},{"year":2019,"month":12,"date":1,"utc":true},{"year":2020,"month":3,"date":22,"utc":true},{"year":2020,"month":7,"date":12,"utc":true},{"year":2020,"month":11,"date":1,"utc":true},{"year":2021,"month":2,"date":21,"utc":true},{"year":2021,"month":6,"date":13,"utc":true}],
    "labelExpr":"round((datum.value - utc(2006,8,24)) / 604800000) % 32 == 0 ? utcFormat(datum.value, '%-d %b %Y') : ''",
    "tickOpacity":{"condition":{"test":"round((datum.value - utc(2006,8,24)) / 604800000) % 32 == 0","value":1},"value":0}}},
  "y":{"field":"h","type":"quantitative","scale":{"domain":[74.276,128.469],"nice":false,"zero":false},
   "axis":{"orient":"right","tickCount":50,"values":[74.805,80.25,85.86,91.47,96.915,102.525,108.135,113.58,119.19,124.8],"format":".3f","labelOverlap":false}},
  "y2":{"field":"l"}}},
{"data":{"name":"levels"},"transform":[{"filter":"datum.k == 'bid'"}],"mark":{"type":"rule","color":"#a0a0a0","strokeWidth":1},"encoding":{"y":{"field":"p","type":"quantitative"}}},
{"data":{"name":"levels"},"transform":[{"filter":"datum.k == 'tp'"}],"mark":{"type":"rule","color":"#ff0000","strokeWidth":1,"strokeDash":[10,5,3,5]},"encoding":{"y":{"field":"p","type":"quantitative"}}},
{"data":{"name":"levels"},"transform":[{"filter":"datum.k == 'op'"}],"mark":{"type":"rule","color":"#00ff00","strokeWidth":1,"strokeDash":[8,4,2,4]},"encoding":{"y":{"field":"p","type":"quantitative"}}},
{"data":{"name":"levels"},"transform":[{"filter":"datum.k == 'sl'"}],"mark":{"type":"rule","color":"#ff0000","strokeWidth":1,"strokeDash":[8,4,2,4]},"encoding":{"y":{"field":"p","type":"quantitative"}}},
{"data":{"name":"levels"},"transform":[{"filter":"datum.k == 'hl'"}],"mark":{"type":"rule","color":"#ff0000","strokeWidth":2},"encoding":{"y":{"field":"p","type":"quantitative"}}},
{"data":{"name":"notes"},"mark":{"type":"text","align":"left","baseline":"middle","dy":-6,"font":"Liberation Sans","fontSize":9,"color":"#e8e8e8"},
 "encoding":{"x":{"field":"d","type":"temporal"},"y":{"field":"p","type":"quantitative"},"text":{"field":"t"}}},
{"data":{"name":"tags"},"mark":{"type":"tick","orient":"horizontal","size":41,"thickness":11,"opacity":1},
 "encoding":{"x":{"field":"d","type":"temporal"},"y":{"field":"p","type":"quantitative"},"color":{"field":"bg","type":"nominal","scale":null}}},
{"data":{"name":"tags"},"mark":{"type":"text","align":"center","baseline":"middle","font":"Liberation Sans","fontSize":9},
 "encoding":{"x":{"field":"d","type":"temporal"},"y":{"field":"p","type":"quantitative"},"text":{"field":"t"},"color":{"field":"fg","type":"nominal","scale":null}}}
]
}
